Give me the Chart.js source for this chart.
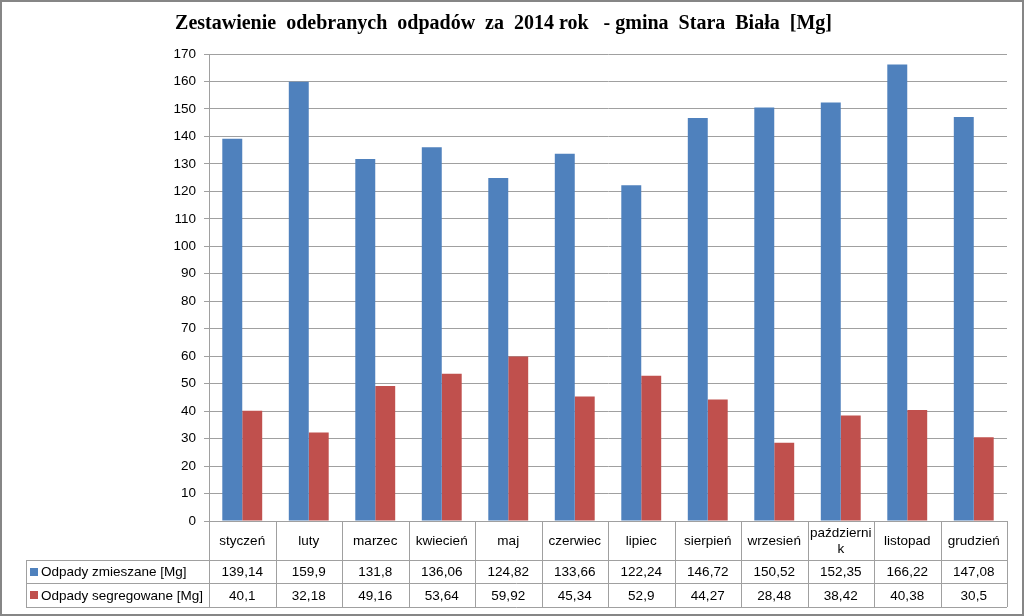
<!DOCTYPE html>
<html>
<head>
<meta charset="utf-8">
<script src="https://cdn.jsdelivr.net/npm/chart.js@4.4.1/dist/chart.umd.min.js"></script>
<style>
html,body{margin:0;padding:0;background:#fff;}
#wrap{width:1024px;height:616px;position:relative;}
</style>
</head>
<body>
<div id="wrap"><canvas id="c" width="1024" height="616"></canvas></div>
<script>
const categories = ["styczeń","luty","marzec","kwiecień","maj","czerwiec","lipiec","sierpień","wrzesień","październik","listopad","grudzień"];
const seriesNames = ["Odpady zmieszane [Mg]","Odpady segregowane [Mg]"];
const mixedValues = [139.14,159.9,131.8,136.06,124.82,133.66,122.24,146.72,150.52,152.35,166.22,147.08];
const segregatedValues = [40.1,32.18,49.16,53.64,59.92,45.34,52.9,44.27,28.48,38.42,40.38,30.5];
const yTicks = {min:0,max:170,step:10};
const titleText = "Zestawienie  odebranych  odpadów  za  2014 rok   - gmina  Stara  Biała  [Mg]";

const colors = ["#4F81BD","#C0504D"];
const lineColor = "#A0A0A0";
const tableFont = "13.5px 'Liberation Sans', sans-serif";

function fmt(v){ return String(v).replace('.', ','); }

const tablePlugin = {
  id:'dataTable',
  beforeDraw(chart){
    const ctx = chart.ctx;
    ctx.save();
    ctx.fillStyle = '#fff';
    ctx.fillRect(0,0,chart.width,chart.height);
    ctx.restore();
  },
  afterDraw(chart){
    const ctx = chart.ctx;
    const xs = chart.scales.x;
    const area = chart.chartArea;
    const n = categories.length;
    const cw = (area.right - area.left)/n;
    const top = area.bottom;
    const r1 = top + 39, r2 = r1 + 23, r3 = r2 + 24;
    const legLeft = 26;
    ctx.save();
    ctx.strokeStyle = lineColor;
    ctx.lineWidth = 1;
    ctx.beginPath();
    ctx.moveTo(area.left, top+0.5); ctx.lineTo(area.right, top+0.5);
    [r1,r2,r3].forEach(y=>{ ctx.moveTo(legLeft, y+0.5); ctx.lineTo(area.right, y+0.5); });
    for(let i=0;i<=n;i++){
      const x = Math.round(xs.getPixelForValue(0) - cw/2 + i*cw)+0.5;
      ctx.moveTo(x, top); ctx.lineTo(x, r3);
    }
    ctx.moveTo(legLeft+0.5, r1); ctx.lineTo(legLeft+0.5, r3);
    ctx.stroke();

    ctx.fillStyle = '#000';
    ctx.font = tableFont;
    ctx.textAlign = 'center';
    ctx.textBaseline = 'middle';
    categories.forEach((c,i)=>{
      const cx = xs.getPixelForValue(i);
      const maxW = cw - 1;
      let lines = [c];
      if(ctx.measureText(c).width > maxW){
        let cut = c.length;
        while(cut>1 && ctx.measureText(c.slice(0,cut)).width > maxW) cut--;
        lines = [c.slice(0,cut), c.slice(cut)];
      }
      const mid = (top + r1)/2 + 1;
      const lh = 16;
      lines.forEach((l,k)=>{
        ctx.fillText(l, cx, mid + (k - (lines.length-1)/2)*lh);
      });
      ctx.fillText(fmt(mixedValues[i]), cx, (r1+r2)/2+1);
      ctx.fillText(fmt(segregatedValues[i]), cx, (r2+r3)/2+1);
    });
    ctx.textAlign = 'left';
    [[r1,r2],[r2,r3]].forEach((rr,k)=>{
      const my = (rr[0]+rr[1])/2;
      ctx.fillStyle = colors[k];
      ctx.fillRect(legLeft+4, Math.round(my-4), 8, 8);
      ctx.fillStyle = '#000';
      ctx.fillText(seriesNames[k], legLeft+15, my+1);
    });
    ctx.strokeStyle = '#868686';
    ctx.lineWidth = 2;
    ctx.strokeRect(1,1,chart.width-2,chart.height-2);
    ctx.restore();
  }
};

new Chart(document.getElementById('c'), {
  type:'bar',
  data:{
    labels: categories,
    datasets:[
      {label: seriesNames[0], data: mixedValues, backgroundColor: colors[0]},
      {label: seriesNames[1], data: segregatedValues, backgroundColor: colors[1]}
    ]
  },
  options:{
    responsive:false,
    animation:false,
    devicePixelRatio:1,
    layout:{padding:{left:0,right:17,top:0,bottom:95}},
    datasets:{bar:{categoryPercentage:0.6,barPercentage:1.0}},
    plugins:{
      legend:{display:false},
      tooltip:{enabled:false},
      title:{
        display:true,
        text:titleText,
        color:'#000',
        font:{family:"'Liberation Serif', serif",size:20,weight:'bold'},
        padding:{top:12,bottom:18}
      }
    },
    scales:{
      x:{display:false},
      y:{
        min:yTicks.min,max:yTicks.max,
        afterFit(scale){ scale.width = 209; },
        ticks:{stepSize:yTicks.step,color:'#000',padding:8,font:{family:"'Liberation Sans', sans-serif",size:13.5}},
        grid:{color:lineColor,tickLength:5,lineWidth:1},
        border:{display:true,color:lineColor}
      }
    }
  },
  plugins:[tablePlugin]
});
</script>
</body>
</html>
